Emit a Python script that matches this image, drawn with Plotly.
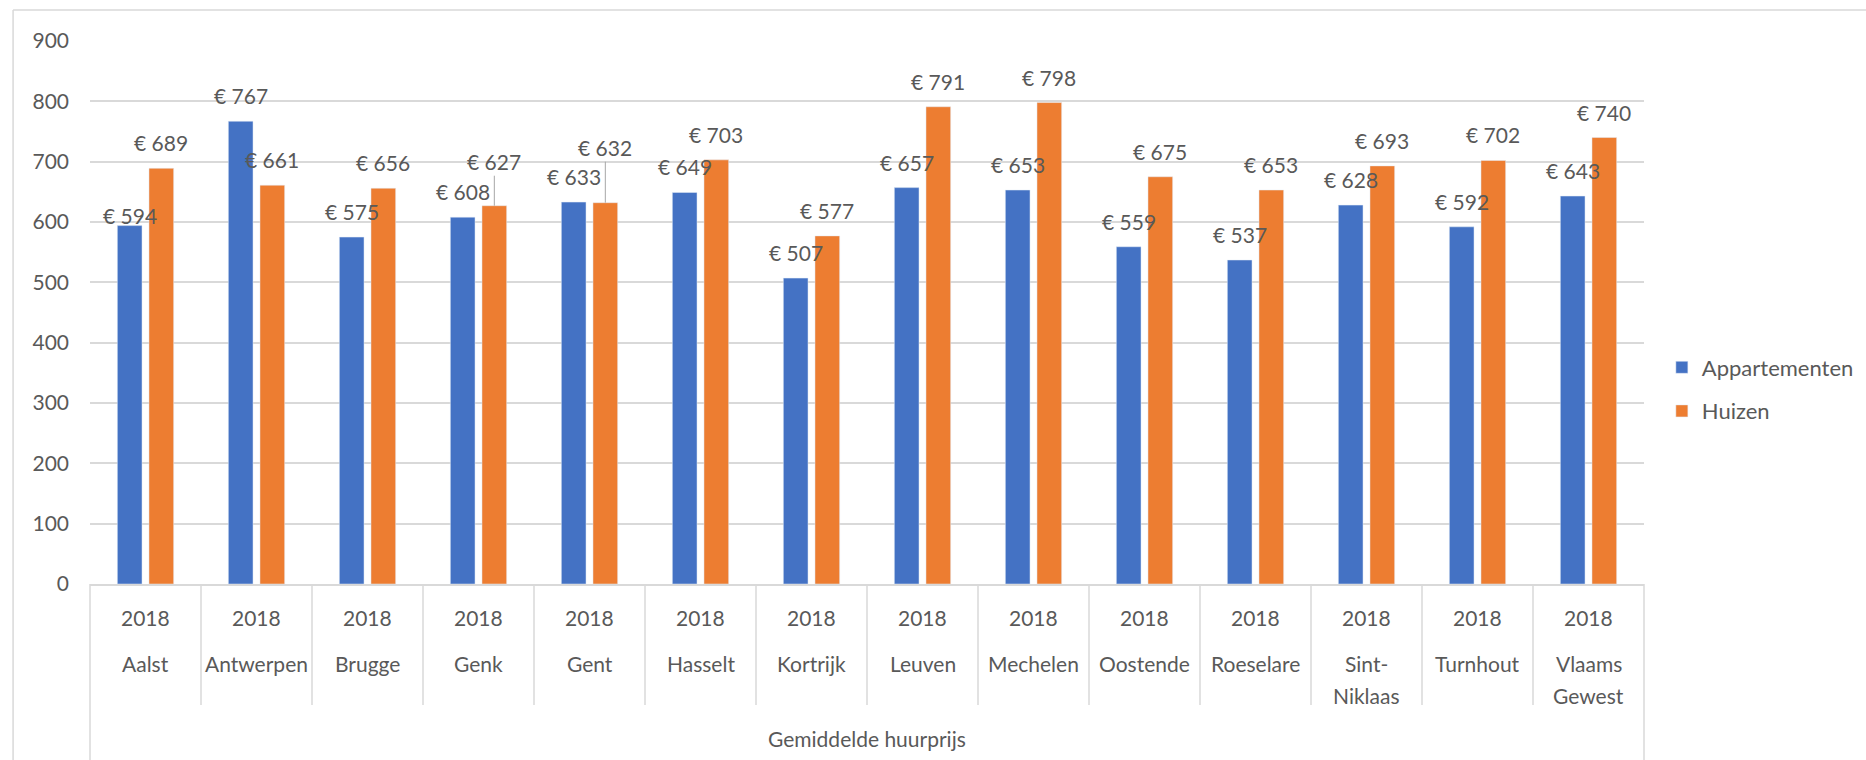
import plotly.graph_objects as go

# Gemiddelde huurprijs per stad (2018), in euro
cities = ["Aalst", "Antwerpen", "Brugge", "Genk", "Gent", "Hasselt", "Kortrijk",
          "Leuven", "Mechelen", "Oostende", "Roeselare", "Sint-\nNiklaas",
          "Turnhout", "Vlaams\nGewest"]
years = ["2018"] * len(cities)
appartementen = [594, 767, 575, 608, 633, 649, 507, 657, 653, 559, 537, 628, 592, 643]
huizen = [689, 661, 656, 627, 632, 703, 577, 791, 798, 675, 653, 693, 702, 740]
group_title = "Gemiddelde huurprijs"
y_ticks = [0, 100, 200, 300, 400, 500, 600, 700, 800, 900]

BLUE = "#4472C4"
ORANGE = "#ED7D31"
TEXT = "#595959"
GRID = "#D9D9D9"
FONT = "Lato"
FS = 21

BARGAP = 0.43
GROUPGAP = 0.22
slot = (1 - BARGAP) / 2          # width of one bar slot inside a category
n = len(cities)
xs = list(range(n))

fig = go.Figure()
fig.add_trace(go.Bar(x=xs, y=appartementen, name="Appartementen",
                     marker_color=BLUE, legendgroup="a"))
fig.add_trace(go.Bar(x=xs, y=huizen, name="Huizen",
                     marker_color=ORANGE, legendgroup="h"))

annotations = []
# data labels above each bar
label_shift = {("a", 0): -15}               # Aalst label sits lower
leader = {("h", 3): -44, ("h", 4): -55}     # labels moved up with a leader line
for key, vals, off in (("a", appartementen, -slot / 2), ("h", huizen, slot / 2)):
    for i, v in enumerate(vals):
        if (key, i) in leader:
            annotations.append(dict(
                x=i + off, y=v, xref="x", yref="y", text=f"€ {v}",
                showarrow=True, arrowhead=0, arrowwidth=1, arrowcolor="#A6A6A6",
                ax=0, ay=leader[(key, i)], standoff=0,
                font=dict(family=FONT, size=FS, color=TEXT)))
        else:
            annotations.append(dict(
                x=i + off, y=v, xref="x", yref="y", text=f"€ {v}",
                showarrow=False, yanchor="bottom",
                yshift=11 + label_shift.get((key, i), 0),
                font=dict(family=FONT, size=FS, color=TEXT)))

# multi-level category labels below the axis
for i, (yr, city) in enumerate(zip(years, cities)):
    annotations.append(dict(x=i, y=0, xref="x", yref="paper", text=yr,
                            showarrow=False, yanchor="middle", yshift=-33,
                            font=dict(family=FONT, size=FS, color=TEXT)))
    for j, line in enumerate(city.split("\n")):
        annotations.append(dict(x=i, y=0, xref="x", yref="paper", text=line,
                                showarrow=False, yanchor="middle",
                                yshift=-79 - 32 * j,
                                font=dict(family=FONT, size=FS, color=TEXT)))
annotations.append(dict(x=0.5, y=0, xref="paper", yref="paper", text=group_title,
                        showarrow=False, yanchor="middle", yshift=-154,
                        font=dict(family=FONT, size=FS, color=TEXT)))

shapes = []
# category dividers
for k in range(n + 1):
    outer = k in (0, n)
    shapes.append(dict(type="line", xref="paper", yref="paper",
                       x0=k / n, x1=k / n, y0=0, y1=-0.34 if outer else -0.223,
                       line=dict(color=GRID, width=1.5)))
# chart frame (left and top edges)
shapes.append(dict(type="line", xref="paper", yref="paper",
                   x0=-0.0495, x1=-0.0495, y0=1.057, y1=-0.4,
                   line=dict(color=GRID, width=1.5)))
shapes.append(dict(type="line", xref="paper", yref="paper",
                   x0=-0.0495, x1=1.2, y0=1.057, y1=1.057,
                   line=dict(color=GRID, width=1.5)))

fig.update_layout(
    width=1866, height=760,
    margin=dict(l=90, r=222, t=41, b=176),
    paper_bgcolor="white", plot_bgcolor="white",
    barmode="group", bargap=BARGAP, bargroupgap=GROUPGAP,
    font=dict(family=FONT, size=FS, color=TEXT),
    xaxis=dict(range=[-0.5, n - 0.5], showticklabels=False, showgrid=False,
               zeroline=False, showline=True, linecolor=GRID, linewidth=1.5,
               fixedrange=True),
    yaxis=dict(range=[0, 900], tickvals=y_ticks, showgrid=True, gridcolor=GRID,
               gridwidth=1.5, zeroline=False, showline=False,
               ticklabelstandoff=20,
               tickfont=dict(family=FONT, size=FS, color=TEXT)),
    legend=dict(xref="container", yref="container", x=0.8906, y=0.4875,
                xanchor="left", yanchor="middle", tracegroupgap=12,
                traceorder="grouped",
                font=dict(family=FONT, size=22, color=TEXT)),
    annotations=annotations,
    shapes=shapes,
)

fig.write_html("out.html")
